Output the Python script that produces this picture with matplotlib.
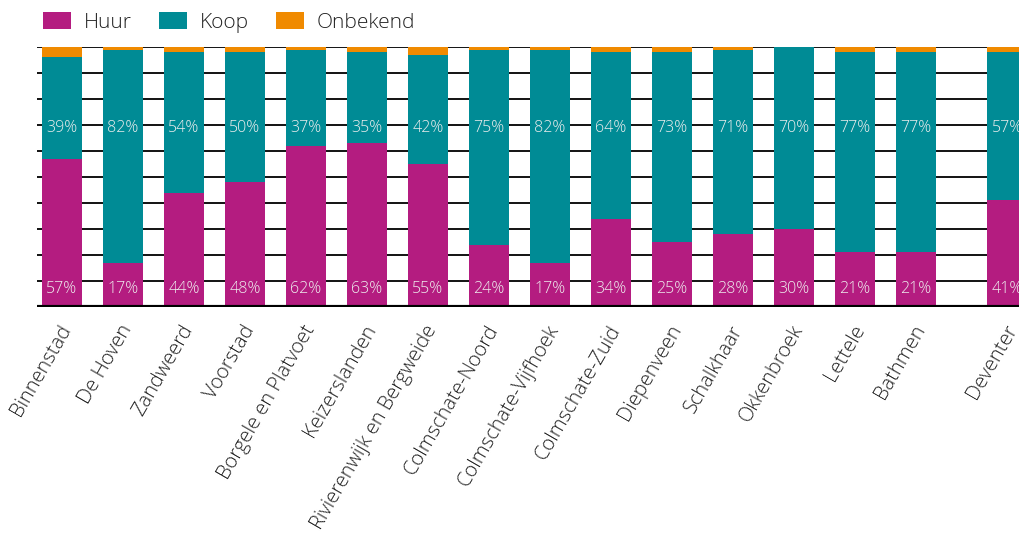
import numpy as np
import matplotlib.pyplot as plt
import matplotlib.transforms as mtransforms

wijken = ["Binnenstad", "De Hoven", "Zandweerd", "Voorstad", "Borgele en Platvoet",
          "Keizerslanden", "Rivierenwijk en Bergweide", "Colmschate-Noord",
          "Colmschate-Vijfhoek", "Colmschate-Zuid", "Diepenveen", "Schalkhaar",
          "Okkenbroek", "Lettele", "Bathmen", "Deventer"]
huur = [57, 17, 44, 48, 62, 63, 55, 24, 17, 34, 25, 28, 30, 21, 21, 41]
koop = [39, 82, 54, 50, 37, 35, 42, 75, 82, 64, 73, 71, 70, 77, 77, 57]
onbekend = [4, 1, 2, 2, 1, 2, 3, 1, 1, 2, 2, 1, 0, 2, 2, 2]

c_huur = "#b41c80"
c_koop = "#008b95"
c_onb = "#f08a00"

plt.rcParams["font.family"] = ["Open Sans", "DejaVu Sans"]

x = np.arange(len(wijken), dtype=float)
x[-1] += 0.5  # Deventer staat apart
huur = np.array(huur)
koop = np.array(koop)
onbekend = np.array(onbekend)

fig = plt.figure(figsize=(10.2, 5.41), dpi=100)
ax = fig.add_axes([37 / 1020, 1 - 307 / 541, 1 - 37 / 1020, 260 / 541])

w = 40 / 61
ax.bar(x, huur, w, color=c_huur, label="Huur", zorder=3)
ax.bar(x, koop, w, bottom=huur, color=c_koop, label="Koop", zorder=3)
ax.bar(x, onbekend, w, bottom=huur + koop, color=c_onb, label="Onbekend", zorder=3)

for i in range(len(wijken)):
    ax.text(x[i], 7, f"{huur[i]}%", ha="center", va="center", color="#eeeeee",
            fontsize=11.5, fontweight="light", zorder=4)
    ax.text(x[i], 69, f"{koop[i]}%", ha="center", va="center", color="#eeeeee",
            fontsize=11.5, fontweight="light", zorder=4)

ax.set_xlim(-25 / 61, (1020 - 62) / 61)
ax.set_ylim(0, 100)
for y in range(10, 101, 10):
    ax.axhline(y, color="black", lw=1.3, zorder=1)
ax.axhline(0, color="black", lw=3, zorder=5)

for s in ax.spines.values():
    s.set_visible(False)
ax.set_yticks([])
ax.set_xticks(x)
ax.set_xticklabels(wijken, rotation=60, ha="right", va="center", rotation_mode="anchor",
                   fontsize=14.5, fontweight="light", color="#222222")
ax.tick_params(axis="x", length=0, pad=14)
shift = mtransforms.ScaledTranslation(5 / 100, 0, fig.dpi_scale_trans)
for lbl in ax.get_xticklabels():
    lbl.set_transform(lbl.get_transform() + shift)

fig.legend(loc="upper left", bbox_to_anchor=(0.024, 1.012), ncol=3, frameon=False,
           handlelength=1.35, handleheight=0.85, columnspacing=1.3,
           handletextpad=0.6, labelcolor="#222222", prop={"weight": "light", "size": 15})

fig.savefig("out.png", dpi=100)
